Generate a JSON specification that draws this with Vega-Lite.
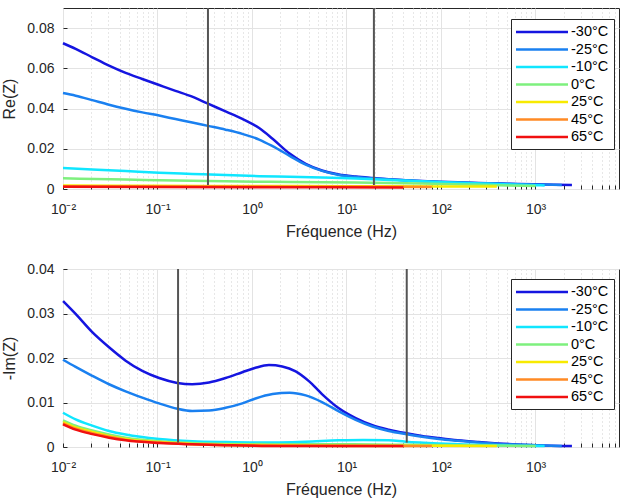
{
  "$schema": "https://vega.github.io/schema/vega-lite/v6.json",
  "background": "white",
  "padding": {"left": 1, "top": 6, "right": 0, "bottom": 0},
  "config": {
    "font": "Liberation Sans",
    "view": {"stroke": "#262626", "strokeWidth": 1},
    "axis": {
      "labelFont": "Liberation Sans", "titleFont": "Liberation Sans",
      "labelFontSize": 14, "titleFontSize": 16, "titleFontWeight": "normal",
      "labelColor": "#262626", "titleColor": "#262626",
      "domain": false, "tickColor": "#262626", "tickSize": -4, "tickWidth": 1,
      "gridColor": "#e3e3e3", "gridWidth": 1, "labelFlush": false, "labelOverlap": false
    },
    "legend": {
      "labelFont": "Liberation Sans", "labelFontSize": 14.5, "labelColor": "#000000",
      "fillColor": "white", "strokeColor": "#262626", "padding": 5,
      "symbolType": "M-4,0H4", "symbolSize": 169, "symbolStrokeWidth": 2.5,
      "symbolOffset": 18, "labelOffset": 21,
      "rowPadding": 2.5
    }
  },
  "datasets": {
    "re": [
      {"T":"-30°C","f":0.01,"v":0.0725},{"T":"-30°C","f":0.0136,"v":0.0697},{"T":"-30°C","f":0.0204,"v":0.0655},{"T":"-30°C","f":0.0307,"v":0.0613},{"T":"-30°C","f":0.046,"v":0.0577},{"T":"-30°C","f":0.069,"v":0.0547},{"T":"-30°C","f":0.104,"v":0.0517},{"T":"-30°C","f":0.155,"v":0.0488},{"T":"-30°C","f":0.233,"v":0.0459},{"T":"-30°C","f":0.342,"v":0.0424},{"T":"-30°C","f":0.525,"v":0.0386},{"T":"-30°C","f":0.79,"v":0.0349},{"T":"-30°C","f":1.19,"v":0.0303},{"T":"-30°C","f":1.65,"v":0.025},{"T":"-30°C","f":2.5,"v":0.0176},{"T":"-30°C","f":3.7,"v":0.0125},{"T":"-30°C","f":5.5,"v":0.0092},{"T":"-30°C","f":8.3,"v":0.0072},{"T":"-30°C","f":12.5,"v":0.0062},{"T":"-30°C","f":18.8,"v":0.0055},{"T":"-30°C","f":28,"v":0.0049},{"T":"-30°C","f":42,"v":0.0044},{"T":"-30°C","f":63,"v":0.004},{"T":"-30°C","f":95,"v":0.0036},{"T":"-30°C","f":150,"v":0.0033},{"T":"-30°C","f":250,"v":0.003},{"T":"-30°C","f":400,"v":0.0028},{"T":"-30°C","f":650,"v":0.0025},{"T":"-30°C","f":1000,"v":0.0023},{"T":"-30°C","f":1600,"v":0.0021},{"T":"-30°C","f":2430,"v":0.002},
      {"T":"-25°C","f":0.01,"v":0.0477},{"T":"-25°C","f":0.0136,"v":0.0464},{"T":"-25°C","f":0.0204,"v":0.0442},{"T":"-25°C","f":0.0307,"v":0.0419},{"T":"-25°C","f":0.046,"v":0.0399},{"T":"-25°C","f":0.069,"v":0.0381},{"T":"-25°C","f":0.104,"v":0.0365},{"T":"-25°C","f":0.155,"v":0.0348},{"T":"-25°C","f":0.233,"v":0.0331},{"T":"-25°C","f":0.342,"v":0.0314},{"T":"-25°C","f":0.525,"v":0.0295},{"T":"-25°C","f":0.79,"v":0.0274},{"T":"-25°C","f":1.19,"v":0.0246},{"T":"-25°C","f":1.65,"v":0.0213},{"T":"-25°C","f":2.5,"v":0.0165},{"T":"-25°C","f":3.7,"v":0.0121},{"T":"-25°C","f":5.5,"v":0.009},{"T":"-25°C","f":8.3,"v":0.007},{"T":"-25°C","f":12.5,"v":0.006},{"T":"-25°C","f":18.8,"v":0.0053},{"T":"-25°C","f":28,"v":0.0048},{"T":"-25°C","f":42,"v":0.0043},{"T":"-25°C","f":63,"v":0.0039},{"T":"-25°C","f":95,"v":0.0035},{"T":"-25°C","f":150,"v":0.0032},{"T":"-25°C","f":250,"v":0.0029},{"T":"-25°C","f":400,"v":0.0027},{"T":"-25°C","f":650,"v":0.0024},{"T":"-25°C","f":1000,"v":0.0022},{"T":"-25°C","f":1900,"v":0.002},
      {"T":"-10°C","f":0.01,"v":0.0104},{"T":"-10°C","f":0.0204,"v":0.0097},{"T":"-10°C","f":0.046,"v":0.0089},{"T":"-10°C","f":0.104,"v":0.0081},{"T":"-10°C","f":0.233,"v":0.0075},{"T":"-10°C","f":0.525,"v":0.0069},{"T":"-10°C","f":1.19,"v":0.0064},{"T":"-10°C","f":2.5,"v":0.0061},{"T":"-10°C","f":5.5,"v":0.0057},{"T":"-10°C","f":12.5,"v":0.0052},{"T":"-10°C","f":28,"v":0.0045},{"T":"-10°C","f":63,"v":0.0038},{"T":"-10°C","f":150,"v":0.0031},{"T":"-10°C","f":400,"v":0.0025},{"T":"-10°C","f":1000,"v":0.0019},{"T":"-10°C","f":1250,"v":0.0018},
      {"T":"0°C","f":0.01,"v":0.0053},{"T":"0°C","f":0.046,"v":0.0047},{"T":"0°C","f":0.104,"v":0.0043},{"T":"0°C","f":0.525,"v":0.0038},{"T":"0°C","f":2.5,"v":0.0035},{"T":"0°C","f":12.5,"v":0.0032},{"T":"0°C","f":63,"v":0.0027},{"T":"0°C","f":250,"v":0.0021},{"T":"0°C","f":1000,"v":0.0015},
      {"T":"25°C","f":0.01,"v":0.0018},{"T":"25°C","f":0.1,"v":0.0016},{"T":"25°C","f":1,"v":0.0015},{"T":"25°C","f":10,"v":0.0014},{"T":"25°C","f":100,"v":0.0013},{"T":"25°C","f":390,"v":0.0012},
      {"T":"45°C","f":0.01,"v":0.0014},{"T":"45°C","f":1,"v":0.0012},{"T":"45°C","f":10,"v":0.0011},{"T":"45°C","f":80,"v":0.001},
      {"T":"65°C","f":0.01,"v":0.0011},{"T":"65°C","f":1,"v":0.0009},{"T":"65°C","f":40,"v":0.0008}
    ],
    "im": [
      {"T":"-30°C","f":0.01,"v":0.0328},{"T":"-30°C","f":0.0136,"v":0.0299},{"T":"-30°C","f":0.0204,"v":0.0258},{"T":"-30°C","f":0.0307,"v":0.0224},{"T":"-30°C","f":0.046,"v":0.0194},{"T":"-30°C","f":0.069,"v":0.0171},{"T":"-30°C","f":0.104,"v":0.0155},{"T":"-30°C","f":0.162,"v":0.0144},{"T":"-30°C","f":0.233,"v":0.0141},{"T":"-30°C","f":0.351,"v":0.0145},{"T":"-30°C","f":0.525,"v":0.0155},{"T":"-30°C","f":0.79,"v":0.0168},{"T":"-30°C","f":1.09,"v":0.0178},{"T":"-30°C","f":1.51,"v":0.0184},{"T":"-30°C","f":2.09,"v":0.0181},{"T":"-30°C","f":2.9,"v":0.017},{"T":"-30°C","f":4,"v":0.0148},{"T":"-30°C","f":5.5,"v":0.0119},{"T":"-30°C","f":8.3,"v":0.0087},{"T":"-30°C","f":12.5,"v":0.0065},{"T":"-30°C","f":18.8,"v":0.0049},{"T":"-30°C","f":28,"v":0.0039},{"T":"-30°C","f":43,"v":0.0031},{"T":"-30°C","f":63,"v":0.0025},{"T":"-30°C","f":95,"v":0.002},{"T":"-30°C","f":150,"v":0.0015},{"T":"-30°C","f":250,"v":0.0011},{"T":"-30°C","f":400,"v":0.0008},{"T":"-30°C","f":1000,"v":0.0004},{"T":"-30°C","f":2430,"v":0.0002},
      {"T":"-25°C","f":0.01,"v":0.0196},{"T":"-25°C","f":0.0136,"v":0.018},{"T":"-25°C","f":0.0204,"v":0.016},{"T":"-25°C","f":0.0307,"v":0.0141},{"T":"-25°C","f":0.046,"v":0.0125},{"T":"-25°C","f":0.069,"v":0.0111},{"T":"-25°C","f":0.104,"v":0.0098},{"T":"-25°C","f":0.162,"v":0.0086},{"T":"-25°C","f":0.233,"v":0.0081},{"T":"-25°C","f":0.351,"v":0.0082},{"T":"-25°C","f":0.525,"v":0.0088},{"T":"-25°C","f":0.79,"v":0.0098},{"T":"-25°C","f":1.09,"v":0.0109},{"T":"-25°C","f":1.65,"v":0.0119},{"T":"-25°C","f":2.5,"v":0.0122},{"T":"-25°C","f":3.7,"v":0.0116},{"T":"-25°C","f":5.5,"v":0.0101},{"T":"-25°C","f":8.3,"v":0.008},{"T":"-25°C","f":12.5,"v":0.0061},{"T":"-25°C","f":18.8,"v":0.0046},{"T":"-25°C","f":28,"v":0.0036},{"T":"-25°C","f":42,"v":0.0029},{"T":"-25°C","f":63,"v":0.0023},{"T":"-25°C","f":95,"v":0.0018},{"T":"-25°C","f":150,"v":0.0014},{"T":"-25°C","f":250,"v":0.001},{"T":"-25°C","f":400,"v":0.0007},{"T":"-25°C","f":1000,"v":0.0004},{"T":"-25°C","f":1900,"v":0.0002},
      {"T":"-10°C","f":0.01,"v":0.0077},{"T":"-10°C","f":0.0136,"v":0.0062},{"T":"-10°C","f":0.0204,"v":0.0048},{"T":"-10°C","f":0.0307,"v":0.0036},{"T":"-10°C","f":0.046,"v":0.0028},{"T":"-10°C","f":0.104,"v":0.0018},{"T":"-10°C","f":0.233,"v":0.0013},{"T":"-10°C","f":0.525,"v":0.0011},{"T":"-10°C","f":1.19,"v":0.001},{"T":"-10°C","f":3.7,"v":0.0012},{"T":"-10°C","f":8.3,"v":0.0015},{"T":"-10°C","f":15,"v":0.0016},{"T":"-10°C","f":28,"v":0.0015},{"T":"-10°C","f":42,"v":0.0012},{"T":"-10°C","f":95,"v":0.0008},{"T":"-10°C","f":250,"v":0.0005},{"T":"-10°C","f":600,"v":0.0003},{"T":"-10°C","f":1250,"v":0.0002},
      {"T":"0°C","f":0.01,"v":0.006},{"T":"0°C","f":0.0136,"v":0.0048},{"T":"0°C","f":0.0204,"v":0.0037},{"T":"0°C","f":0.0307,"v":0.0028},{"T":"0°C","f":0.046,"v":0.0021},{"T":"0°C","f":0.104,"v":0.0013},{"T":"0°C","f":0.233,"v":0.0009},{"T":"0°C","f":0.525,"v":0.0007},{"T":"0°C","f":2,"v":0.0006},{"T":"0°C","f":10,"v":0.0006},{"T":"0°C","f":40,"v":0.0005},{"T":"0°C","f":150,"v":0.0004},{"T":"0°C","f":1000,"v":0.0002},
      {"T":"25°C","f":0.01,"v":0.0056},{"T":"25°C","f":0.0136,"v":0.0044},{"T":"25°C","f":0.0204,"v":0.0034},{"T":"25°C","f":0.0307,"v":0.0025},{"T":"25°C","f":0.046,"v":0.0018},{"T":"25°C","f":0.104,"v":0.0011},{"T":"25°C","f":0.233,"v":0.0007},{"T":"25°C","f":0.525,"v":0.0005},{"T":"25°C","f":2,"v":0.0004},{"T":"25°C","f":10,"v":0.0003},{"T":"25°C","f":50,"v":0.0003},{"T":"25°C","f":390,"v":0.0002},
      {"T":"45°C","f":0.01,"v":0.0053},{"T":"45°C","f":0.0136,"v":0.0041},{"T":"45°C","f":0.0204,"v":0.0031},{"T":"45°C","f":0.0307,"v":0.0023},{"T":"45°C","f":0.046,"v":0.0016},{"T":"45°C","f":0.104,"v":0.001},{"T":"45°C","f":0.233,"v":0.0006},{"T":"45°C","f":0.525,"v":0.0004},{"T":"45°C","f":2,"v":0.0003},{"T":"45°C","f":10,"v":0.0002},{"T":"45°C","f":80,"v":0.0002},
      {"T":"65°C","f":0.01,"v":0.0051},{"T":"65°C","f":0.0136,"v":0.0039},{"T":"65°C","f":0.0204,"v":0.0029},{"T":"65°C","f":0.0307,"v":0.0021},{"T":"65°C","f":0.046,"v":0.0015},{"T":"65°C","f":0.104,"v":0.0009},{"T":"65°C","f":0.233,"v":0.0006},{"T":"65°C","f":0.525,"v":0.0004},{"T":"65°C","f":2,"v":0.0002},{"T":"65°C","f":10,"v":0.0002},{"T":"65°C","f":40,"v":0.0002}
    ],
    "vre": [{"f":0.342,"a":0.002,"b":0.09},{"f":19.5,"a":0.002,"b":0.09}],
    "vim": [{"f":0.165,"a":0.001,"b":0.04},{"f":43.4,"a":0.001,"b":0.04}]
  },
  "resolve": {"legend": {"color": "independent"}},
  "spacing": 21,
  "vconcat": [
    {
      "width": 556, "height": 181,
      "layer": [
        {
          "data": {"name": "re"},
          "mark": {"type": "line", "strokeWidth": 2.5, "interpolate": "monotone"},
          "encoding": {
            "x": {"field": "f", "type": "quantitative",
              "scale": {"type": "log", "domain": [0.01, 7650], "nice": false},
              "axis": {"title": "Fréquence (Hz)", "titlePadding": 7, "labelPadding": 17,
                "values": [0.01,0.02,0.03,0.04,0.05,0.06,0.07,0.08,0.09,0.1,0.2,0.3,0.4,0.5,0.6,0.7,0.8,0.9,1,2,3,4,5,6,7,8,9,10,20,30,40,50,60,70,80,90,100,200,300,400,500,600,700,800,900,1000,2000,3000,4000,5000,6000,7000],
                "labelExpr": "datum.value == 0.01 ? '10⁻²' : datum.value == 0.1 ? '10⁻¹' : datum.value == 1 ? '10⁰' : datum.value == 10 ? '10¹' : datum.value == 100 ? '10²' : datum.value == 1000 ? '10³' : ''",
                "gridDash": {"condition": {"test": "indexof([0.01,0.1,1,10,100,1000], datum.value) < 0", "value": [1, 3]}, "value": []},
                "gridColor": {"condition": {"test": "indexof([0.01,0.1,1,10,100,1000], datum.value) < 0", "value": "#cfcfcf"}, "value": "#e3e3e3"}
              }},
            "y": {"field": "v", "type": "quantitative",
              "scale": {"domain": [0, 0.09], "nice": false},
              "axis": {"title": "Re(Z)", "values": [0, 0.02, 0.04, 0.06, 0.08], "labelPadding": 13, "titlePadding": 9,
                "labelExpr": "datum.value == 0 ? '0' : format(datum.value, '.2f')"}},
            "color": {"field": "T", "type": "nominal",
              "scale": {"domain": ["-30°C","-25°C","-10°C","0°C","25°C","45°C","65°C"],
                "range": ["#1515e0","#1a80f0","#10e6ff","#7ef07e","#f8ea00","#ff8a24","#f01010"]},
              "legend": {"title": null, "orient": "none", "legendX": 448, "legendY": 11}}
          }
        },
        {
          "data": {"name": "vre"},
          "mark": {"type": "rule", "color": "#555555", "strokeWidth": 2},
          "encoding": {
            "x": {"field": "f", "type": "quantitative"},
            "y": {"field": "a", "type": "quantitative"},
            "y2": {"field": "b"}
          }
        }
      ]
    },
    {
      "width": 556, "height": 178,
      "layer": [
        {
          "data": {"name": "im"},
          "mark": {"type": "line", "strokeWidth": 2.5, "interpolate": "monotone"},
          "encoding": {
            "x": {"field": "f", "type": "quantitative",
              "scale": {"type": "log", "domain": [0.01, 7650], "nice": false},
              "axis": {"title": "Fréquence (Hz)", "titlePadding": 7, "labelPadding": 17,
                "values": [0.01,0.02,0.03,0.04,0.05,0.06,0.07,0.08,0.09,0.1,0.2,0.3,0.4,0.5,0.6,0.7,0.8,0.9,1,2,3,4,5,6,7,8,9,10,20,30,40,50,60,70,80,90,100,200,300,400,500,600,700,800,900,1000,2000,3000,4000,5000,6000,7000],
                "labelExpr": "datum.value == 0.01 ? '10⁻²' : datum.value == 0.1 ? '10⁻¹' : datum.value == 1 ? '10⁰' : datum.value == 10 ? '10¹' : datum.value == 100 ? '10²' : datum.value == 1000 ? '10³' : ''",
                "gridDash": {"condition": {"test": "indexof([0.01,0.1,1,10,100,1000], datum.value) < 0", "value": [1, 3]}, "value": []},
                "gridColor": {"condition": {"test": "indexof([0.01,0.1,1,10,100,1000], datum.value) < 0", "value": "#cfcfcf"}, "value": "#e3e3e3"}
              }},
            "y": {"field": "v", "type": "quantitative",
              "scale": {"domain": [0, 0.04], "nice": false},
              "axis": {"title": "-Im(Z)", "values": [0, 0.01, 0.02, 0.03, 0.04], "labelPadding": 13, "titlePadding": 9,
                "labelExpr": "datum.value == 0 ? '0' : format(datum.value, '.2f')"}},
            "color": {"field": "T", "type": "nominal",
              "scale": {"domain": ["-30°C","-25°C","-10°C","0°C","25°C","45°C","65°C"],
                "range": ["#1515e0","#1a80f0","#10e6ff","#7ef07e","#f8ea00","#ff8a24","#f01010"]},
              "legend": {"title": null, "orient": "none", "legendX": 448, "legendY": 10}}
          }
        },
        {
          "data": {"name": "vim"},
          "mark": {"type": "rule", "color": "#555555", "strokeWidth": 2},
          "encoding": {
            "x": {"field": "f", "type": "quantitative"},
            "y": {"field": "a", "type": "quantitative"},
            "y2": {"field": "b"}
          }
        }
      ]
    }
  ]
}
